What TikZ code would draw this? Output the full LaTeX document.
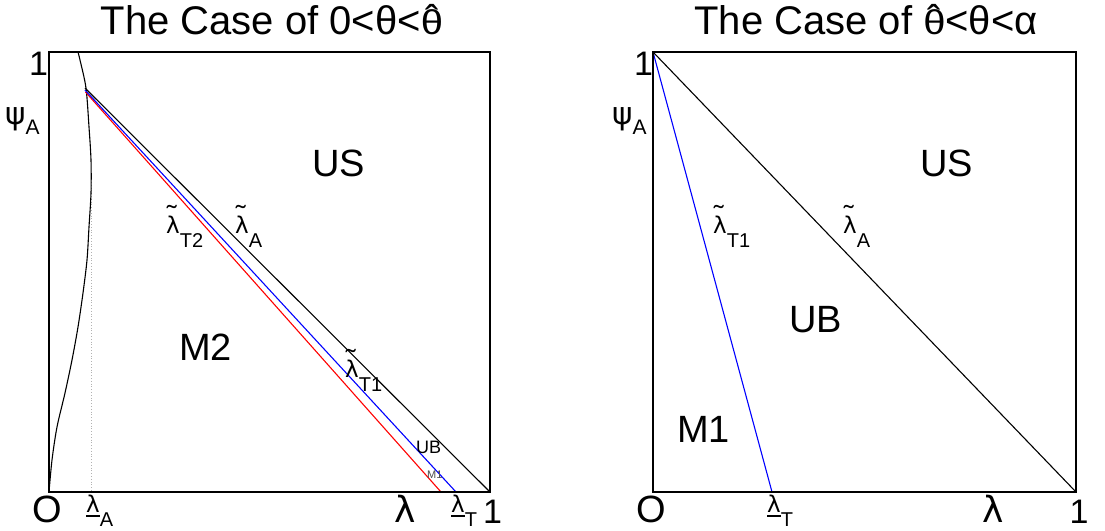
\documentclass[tikz,border=0pt]{standalone}
\usepackage{fontspec}
\usepackage{graphicx}
\setmainfont{Liberation Sans}
\newfontfamily\gk{DejaVu Sans}
\newcommand\fs[1]{\fontsize{#1}{#1}\selectfont}
\newcommand\tld[1]{\leavevmode\setbox0\hbox{#1}\makebox[0pt][l]{\makebox[\wd0][c]{\hspace{-0.1em}\raisebox{0.4em}{\scalebox{1.3}[1.1]{\char"02DC}}}}\box0}
\newcommand\hatc[1]{\leavevmode\setbox0\hbox{\scalebox{1}[0.86]{#1}}\makebox[0pt][l]{\makebox[\wd0][c]{\raisebox{0.02em}{\char"02C6}}}\box0}
\newcommand\ulin[1]{\leavevmode\setbox0\hbox{#1}\makebox[0pt][l]{\rule[-0.2em]{\wd0}{0.06em}}\box0}
\newcommand\subx[1]{\raisebox{-0.7em}{#1}}
% tilde-lambda with subscript
\newcommand\tlam[1]{{\fs{23}\tld{\gk λ}}{\fs{20}\subx{#1}}}
% underlined lambda with subscript
\newcommand\ulam[1]{{\fs{23}\ulin{\gk λ}}{\fs{20}\subx{#1}}}
% psi with subscript
\newcommand\psis[1]{{\fs{31}\gk ψ}{\fs{21}\raisebox{-0.5em}{#1}}}
\begin{document}
\begin{tikzpicture}[x=1pt,y=-1pt,
  lbl/.style={inner sep=0pt, anchor=base west},
  ctr/.style={inner sep=0pt, anchor=base},
  frame/.style={draw=black, line width=1.5pt},
  thinln/.style={line width=1.1pt},
  title/.style={inner sep=0pt, anchor=base, font=\fs{40}},
  axis/.style={font=\fs{38}},
  region/.style={font=\fs{38}}]
\useasboundingbox (0,0) rectangle (1105,530);
% ---------- left panel ----------
\coordinate (LO) at (49,492);
\coordinate (LTR) at (490,52);
\coordinate (L1) at (490,492);
\coordinate (jK) at (85,88);
\coordinate (jB) at (85,90);
\coordinate (jR) at (85.5,92);
\coordinate (bB) at (456,492);
\coordinate (bR) at (441,492);
\coordinate (dTop) at (91,182);
\coordinate (dBot) at (91,492);
\draw[gray!60, dotted, line width=0.8pt] (dTop) -- (dBot);
\draw[thinln] plot[smooth] coordinates {(78,52) (80,60) (86,88) (89,127) (91,160) (91,193) (89,227) (87,260) (83,293) (78,327) (72,360) (65,393) (57,427) (52,460) (49,492)};
\draw[thinln, red] (jR) -- (bR);
\draw[thinln, blue] (jB) -- (bB);
\draw[thinln, black] (jK) -- (L1);
\draw[frame] (LO) rectangle (LTR);
\node[title] (t1) at (272,34) {The Case of 0<θ<\hatc{θ}};
\node[lbl, font=\fs{34}] (l1top) at (29,75) {1};
\node[lbl] (lpsi) at (5,124) {\psis{A}};
\node[ctr, axis] (lO) at (47,522) {O};
\node[ctr, font=\fs{36}\gk] (llam) at (405,522) {λ};
\node[ctr, font=\fs{34}] (l1bot) at (492.5,523) {1};
\node[lbl] (llamA) at (86,512) {\ulam{A}};
\node[lbl] (llamT) at (451,512) {\ulam{T}};
\node[lbl, region] (lUS) at (312,176) {US};
\node[lbl, region] (lM2) at (179,360) {M2};
\node[lbl] (lT2) at (166,233) {\tlam{T2}};
\node[lbl] (lA) at (235,233) {\tlam{A}};
\node[lbl] (lT1) at (345,377) {\tlam{T1}};
\node[lbl, font=\fs{18}] (lUB) at (416,453) {UB};
\node[lbl, font=\fs{11}, text=black!70] (lM1) at (427,478) {M1};
% ---------- right panel ----------
\coordinate (RO) at (653,492);
\coordinate (RTL) at (653,52);
\coordinate (RTR) at (1076,52);
\coordinate (R1) at (1076,492);
\coordinate (RbB) at (772,492);
\draw[thinln, blue] (RTL) -- (RbB);
\draw[thinln, black] (RTL) -- (R1);
\draw[frame] (RO) rectangle (RTR);
\node[title] (t2) at (866,34) {The Case of \hatc{θ}<θ<α};
\node[lbl, font=\fs{34}] (r1top) at (634,75) {1};
\node[lbl] (rpsi) at (612,124) {\psis{A}};
\node[ctr, axis] (rO) at (651,522) {O};
\node[ctr, font=\fs{36}\gk] (rlam) at (993,522) {λ};
\node[ctr, font=\fs{34}] (r1bot) at (1079,523) {1};
\node[lbl] (rlamT) at (767,512) {\ulam{T}};
\node[lbl, region] (rUS) at (920,176) {US};
\node[lbl, region] (rUB) at (789,332) {UB};
\node[lbl, region] (rM1) at (677,442) {M1};
\node[lbl] (rT1) at (713,233) {\tlam{T1}};
\node[lbl] (rA) at (843,233) {\tlam{A}};
\end{tikzpicture}
\end{document}
